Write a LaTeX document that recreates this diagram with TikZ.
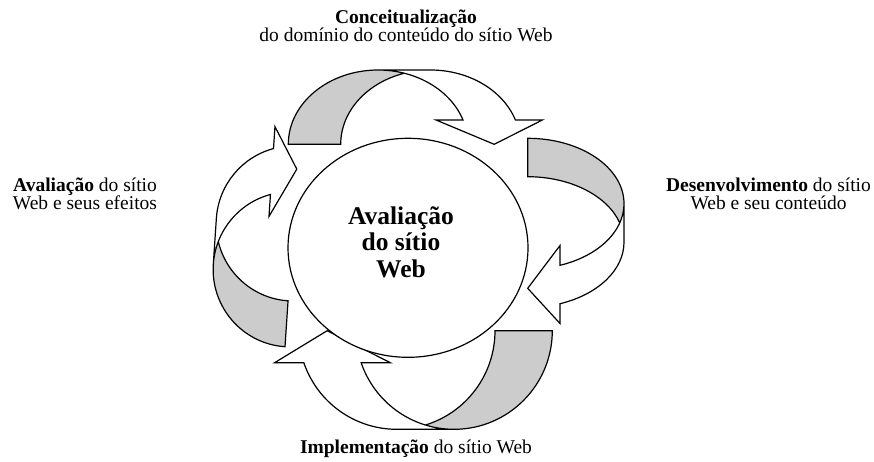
\documentclass[tikz,border=0pt]{standalone}
\usepackage{fontspec}
\setmainfont{Liberation Serif}
\usetikzlibrary{shapes.geometric}
\definecolor{backgray}{HTML}{CCCCCC}

% Word-like curved arrow in a local frame: base on y=0, top at y=h,
% back (gray) part at the left, arrowhead at the right pointing down.
\newcommand\curvedarrow[5]{%
  \pgfmathsetmacro\cw{#1}%
  \pgfmathsetmacro\ch{#2}%
  \pgfmathsetmacro\cth{#3}%
  \pgfmathsetmacro\caw{#4}%
  \pgfmathsetmacro\cah{#5}%
  \pgfmathsetmacro\cwR{\cw/2-(\cth+\caw)/4}%
  \pgfmathsetmacro\cxiii{\cwR+\cth}%
  \pgfmathsetmacro\cdx{\cwR*sqrt(1-(\cah/\ch)^2)}%
  \pgfmathsetmacro\cxv{\cwR+\cdx}%
  \pgfmathsetmacro\cxvii{\cxiii+\cdx}%
  \pgfmathsetmacro\cdh{(\caw-\cth)/2}%
  \pgfmathsetmacro\cxiv{\cxv-\cdh}%
  \pgfmathsetmacro\cxviii{\cxvii+\cdh}%
  \pgfmathsetmacro\cxvi{\cw-\caw/2}%
  \pgfmathsetmacro\ctz{asin(\cah/\ch)}%
  \pgfmathsetmacro\cdl{asin(\cth/(2*\cwR))}%
  \pgfmathsetmacro\cix{\cwR+\cth/2}%
  \pgfmathsetmacro\ciy{\ch*cos(\cdl)}%
  \pgfmathsetmacro\cai{90+\cdl}%
  \pgfmathsetmacro\caii{90-\cdl}%
  \fill[white] (\cxvi,0) -- (\cxiv,\cah) -- (\cxv,\cah)
     arc[start angle=\ctz, end angle=90, x radius=\cwR pt, y radius=\ch pt]
     -- (\cxiii,\ch)
     arc[start angle=90, end angle=\ctz, x radius=\cwR pt, y radius=\ch pt]
     -- (\cxviii,\cah) -- cycle;
  \fill[backgray] (\cix,\ciy)
     arc[start angle=\cai, end angle=180, x radius=\cwR pt, y radius=\ch pt]
     -- (0,0)
     arc[start angle=180, end angle=\caii, x radius=\cwR pt, y radius=\ch pt]
     -- cycle;
  \draw[arrowline] (\cix,\ciy)
     arc[start angle=\cai, end angle=180, x radius=\cwR pt, y radius=\ch pt]
     -- (0,0)
     arc[start angle=180, end angle=90, x radius=\cwR pt, y radius=\ch pt]
     -- (\cxiii,\ch)
     arc[start angle=90, end angle=\ctz, x radius=\cwR pt, y radius=\ch pt]
     -- (\cxviii,\cah) -- (\cxvi,0) -- (\cxiv,\cah) -- (\cxv,\cah)
     arc[start angle=\ctz, end angle=90, x radius=\cwR pt, y radius=\ch pt];
}

\begin{document}
\begin{tikzpicture}[x=1pt,y=1pt,
  arrowline/.style={line width=1.2pt, line join=miter},
  label/.style={font=\fontsize{19.5}{18}\selectfont, align=center, anchor=base, inner sep=0pt},
  hubtxt/.style={font=\fontsize{25.5}{26.5}\selectfont\bfseries, align=center, anchor=base, inner sep=0pt}]
\useasboundingbox (0,0) rectangle (874,-461);

% top arrow
\begin{scope}[shift={(288.3,-144.3)}]
  \curvedarrow{259}{74.3}{52.4}{106.3}{24.3}
\end{scope}
% right arrow
\begin{scope}[shift={(527.7,-138.3)}, rotate=-90]
  \curvedarrow{189}{96.3}{38.4}{78}{32.3}
\end{scope}
% bottom arrow
\begin{scope}[shift={(552.3,-330.7)}, rotate=180]
  \curvedarrow{283}{98.6}{57.3}{115.7}{32}
\end{scope}
% left arrow
\begin{scope}[shift={(285,-346.7)}, rotate=86.2]
  \curvedarrow{223}{77}{46}{90}{24.6}
\end{scope}

\node[ellipse, draw, line width=1.2pt, fill=white, minimum width=240pt,
      minimum height=219pt, inner sep=0pt] (hub) at (408,-247.8) {};
\node[hubtxt] (hubtext) at (401,-277.3) {Avaliação\\do sítio\\Web};

\node[label] (conc) at (406,-41) {\textbf{Conceitualização}\\do domínio do conteúdo do sítio Web};
\node[label] (dev) at (768.5,-209.7) {\textbf{Desenvolvimento} do sítio\\Web e seu conteúdo};
\node[label] (impl) at (416,-453) {\textbf{Implementação} do sítio Web};
\node[label] (aval) at (85,-209.7) {\textbf{Avaliação} do sítio\\Web e seus efeitos};
\end{tikzpicture}
\end{document}
